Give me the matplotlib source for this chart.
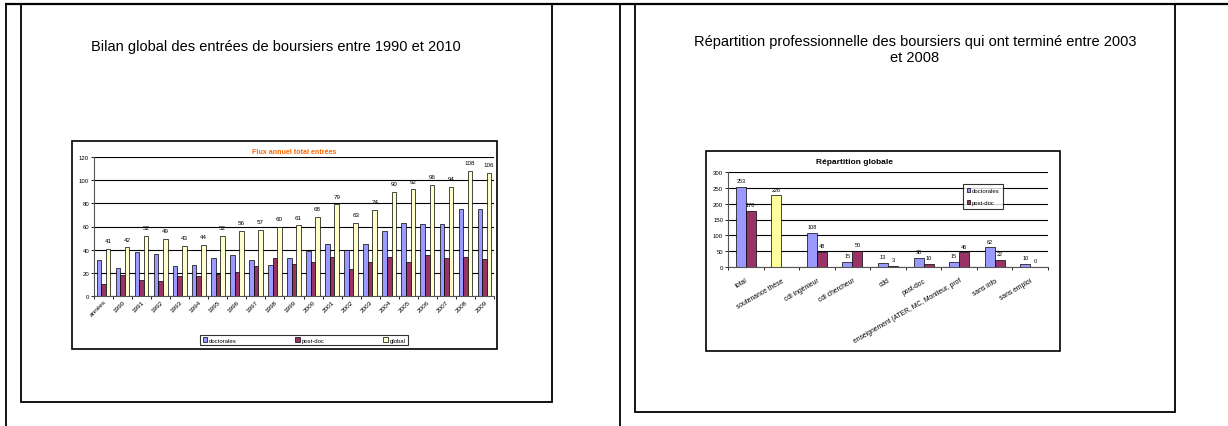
import matplotlib
matplotlib.use("Agg")
import matplotlib.pyplot as plt
import numpy as np
from matplotlib.lines import Line2D
from matplotlib.patches import Rectangle, Patch

plt.rcParams['font.family'] = ['Liberation Sans', 'DejaVu Sans']

W, H = 1228, 427

# left chart data
cats_left = ['années', '1990', '1991', '1992', '1993', '1994', '1995', '1996', '1997',
             '1998', '1999', '2000', '2001', '2002', '2003', '2004', '2005', '2006',
             '2007', '2008', '2009']
doctorales_left = [31, 24, 38, 36, 26, 27, 33, 35, 31, 27, 33, 39, 45, 40, 45, 56, 63, 62, 62, 75, 75]
postdoc_left = [10, 18, 14, 13, 17, 17, 19, 21, 26, 33, 28, 29, 34, 23, 29, 34, 29, 35, 33, 34, 32]
global_left = [41, 42, 52, 49, 43, 44, 52, 56, 57, 60, 61, 68, 79, 63, 74, 90, 92, 96, 94, 108, 106]

# right chart data
cats_right = ['total', 'soutenance thèse', 'cdi ingénieur', 'cdi chercheur', 'cdd', 'post-doc',
              'enseignement (ATER, MC, Moniteur, prof', 'sans info', 'sans emploi']
doctorales_right = [253, 226, 108, 15, 13, 30, 15, 62, 10]
postdoc_right = [178, np.nan, 48, 50, 3, 10, 46, 22, 0]

C_DOC = '#9999FF'
C_POST = '#993366'
C_GLOB = '#FFFFCC'
C_YEL = '#FFFF99'

fig = plt.figure(figsize=(W / 100, H / 100), dpi=100)


def px_axes(x0, y0, x1, y1):
    return fig.add_axes([x0 / W, 1 - y1 / H, (x1 - x0) / W, (y1 - y0) / H])


def px_line(x0, y0, x1, y1, lw=1.3):
    fig.add_artist(Line2D([x0 / W, x1 / W], [1 - y0 / H, 1 - y1 / H],
                          transform=fig.transFigure, color='black', lw=lw,
                          solid_capstyle='butt'))


def px_rect(x0, y0, x1, y1, lw=1.3):
    fig.add_artist(Rectangle((x0 / W, 1 - y1 / H), (x1 - x0) / W, (y1 - y0) / H,
                             transform=fig.transFigure, fill=False, edgecolor='black', lw=lw))


# page frames
px_line(5, 5, W, 5, lw=1.6)
px_line(6, 5, 6, H)
px_line(620, 5, 620, H)
px_rect(20.5, 5, 552, 403)
px_rect(635, 5, 1175, 413)

# slide titles
fig.text(276 / W, 1 - 47 / H, 'Bilan global des entrées de boursiers entre 1990 et 2010',
         ha='center', va='center', fontsize=10.5)
fig.text(915 / W, 1 - 50 / H,
         'Répartition professionnelle des boursiers qui ont terminé entre 2003\net 2008',
         ha='center', va='center', fontsize=10.5, linespacing=1.15)

# chart boxes
px_rect(72, 142, 497, 350, lw=1.2)
px_rect(706, 152, 1060, 352, lw=1.2)


def style_axes(ax, n, ymax, ystep):
    ax.set_xlim(-0.5, n - 0.5)
    ax.set_ylim(0, ymax)
    ax.set_yticks(np.arange(0, ymax + 1, ystep))
    ax.yaxis.grid(True, color='black', lw=0.8)
    ax.set_axisbelow(True)
    for s in ['top', 'right']:
        ax.spines[s].set_visible(False)
    ax.spines['left'].set_color('#555555')
    ax.spines['bottom'].set_color('#555555')
    ax.set_xticks(np.arange(n))
    ax.set_xticks(np.arange(n + 1) - 0.5, minor=True)
    ax.tick_params(axis='x', which='major', length=0, pad=1)
    ax.tick_params(axis='x', which='minor', length=2, width=0.6, direction='out')
    ax.tick_params(axis='y', length=2, width=0.6, labelsize=4.3, pad=1.5)


# ---- left chart ----
axL = px_axes(94, 158, 494, 297)
n = len(cats_left)
x = np.arange(n)
bw = 0.24
kw = dict(edgecolor='black', linewidth=0.5)
axL.bar(x - bw, doctorales_left, bw, color=C_DOC, label='doctorales', **kw)
axL.bar(x, postdoc_left, bw, color=C_POST, label='post-doc', **kw)
axL.bar(x + bw, global_left, bw, color=C_GLOB, label='global', **kw)
for xi, v in zip(x, global_left):
    axL.text(xi + bw, v + 5, str(v), ha='center', va='bottom', fontsize=4.5)
style_axes(axL, n, 120, 20)
axL.set_xticklabels(cats_left, rotation=45, ha='right', rotation_mode='anchor', fontsize=4.6)
axL.tick_params(axis='x', which='major', pad=2)
axL.set_title('Flux annuel total entrées', fontsize=5.1, fontweight='bold', color='#FF6600', pad=3)

legL = axL.legend(ncol=3, loc='center', bbox_to_anchor=(197 / W, 1 - 348 / H, 214 / W, 14 / H),
                  bbox_transform=fig.transFigure, mode='expand', fontsize=4.3,
                  handlelength=0.7, handleheight=0.7, handletextpad=0.3,
                  frameon=True, fancybox=False, edgecolor='black', borderpad=0.45)
legL.get_frame().set_linewidth(0.8)

# ---- right chart ----
axR = px_axes(728, 173, 1048, 268)
m = len(cats_right)
xr = np.arange(m)
bw2 = 0.28
doc_colors = [C_DOC] * m
doc_colors[1] = C_YEL
axR.bar(xr - bw2 / 2, doctorales_right, bw2, color=doc_colors, **kw)
axR.bar(xr + bw2 / 2, postdoc_right, bw2, color=C_POST, **kw)
for xi, v in zip(xr, doctorales_right):
    axR.text(xi - bw2 / 2, v + 12, str(v), ha='center', va='bottom', fontsize=4)
for xi, v in zip(xr, postdoc_right):
    if not np.isnan(v):
        axR.text(xi + bw2 / 2, v + 12, str(int(v)), ha='center', va='bottom', fontsize=4)
style_axes(axR, m, 300, 50)
axR.set_xticklabels(cats_right, rotation=30, ha='right', rotation_mode='anchor', fontsize=4.9)
axR.tick_params(axis='x', which='major', pad=7)
fig.text(855 / W, 1 - 163 / H, 'Répartition globale', ha='center', va='center',
         fontsize=6, fontweight='bold')

handles = [Patch(facecolor=C_DOC, edgecolor='black', lw=0.5, label='doctorales'),
           Patch(facecolor=C_POST, edgecolor='black', lw=0.5, label='post-doc')]
legR = axR.legend(handles=handles, loc='center', bbox_to_anchor=(960 / W, 1 - 212 / H, 46 / W, 29 / H),
                  bbox_transform=fig.transFigure, mode='expand', fontsize=4.3,
                  handlelength=0.6, handleheight=0.6, handletextpad=0.3, labelspacing=1.2,
                  frameon=True, fancybox=False, edgecolor='black', borderpad=0.6)
legR.get_frame().set_linewidth(0.8)

fig.savefig('out.png', dpi=100, facecolor='white')
